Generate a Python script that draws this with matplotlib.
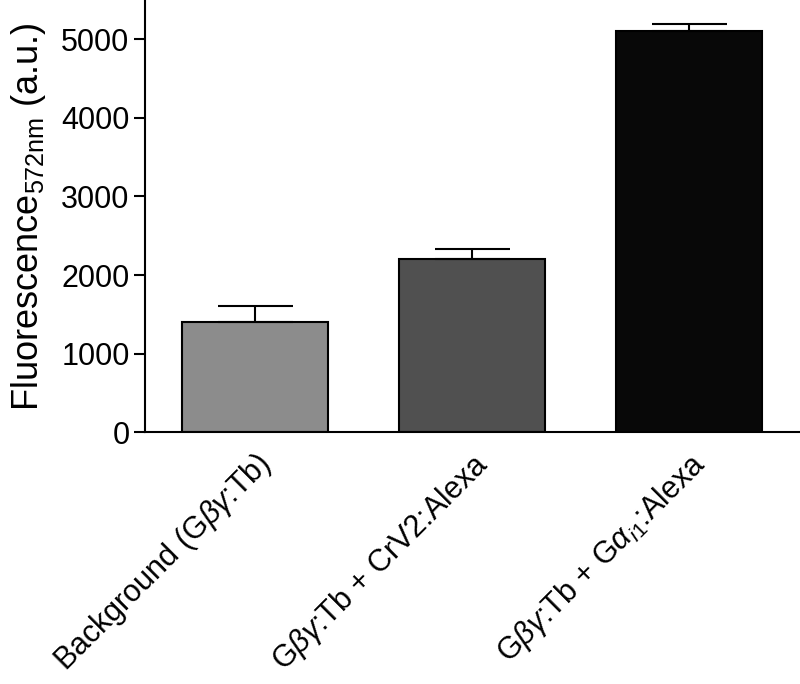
import matplotlib.pyplot as plt
import numpy as np

plt.rcParams["font.family"] = ["Liberation Sans", "DejaVu Sans"]
plt.rcParams["mathtext.fontset"] = "custom"
plt.rcParams["mathtext.rm"] = "Liberation Sans"
plt.rcParams["mathtext.it"] = "Liberation Sans:italic"

categories = [
    r"Background (G$\beta\gamma$:Tb)",
    r"G$\beta\gamma$:Tb + CrV2:Alexa",
    r"G$\beta\gamma$:Tb + G$\alpha_{i1}$:Alexa",
]
values = [1400, 2200, 5100]
errors = [205, 135, 95]
colors = ["#8c8c8c", "#505050", "#080808"]

fig = plt.figure(figsize=(8, 6.84), dpi=100)
ax = fig.add_axes([0.181, 0.368, 0.819, 0.632])

x = np.arange(len(values))
ax.bar(x, values, width=0.67, color=colors, edgecolor="black", linewidth=1.5, zorder=2)
ax.errorbar(
    x,
    values,
    yerr=[np.zeros(len(errors)), errors],
    fmt="none",
    ecolor="black",
    elinewidth=1.5,
    capsize=27,
    capthick=1.5,
    zorder=3,
)

ax.set_xlim(-0.507, 2.51)
ax.set_ylim(0, 5500)
ax.set_yticks([0, 1000, 2000, 3000, 4000, 5000])
ax.set_xticks(x)
ax.set_xticklabels(categories, rotation=45, ha="right", rotation_mode="anchor", fontsize=22)
ax.tick_params(axis="y", labelsize=22, length=8, width=1.5, pad=3)
ax.tick_params(axis="x", length=0, pad=11)

for side in ["top", "right"]:
    ax.spines[side].set_visible(False)
for side in ["left", "bottom"]:
    ax.spines[side].set_linewidth(1.5)

ax.set_ylabel(r"Fluorescence$_{\mathrm{572nm}}$ (a.u.)", fontsize=26)
ax.yaxis.set_label_coords(-0.148, 0.5)

fig.savefig("out.png", dpi=100)
